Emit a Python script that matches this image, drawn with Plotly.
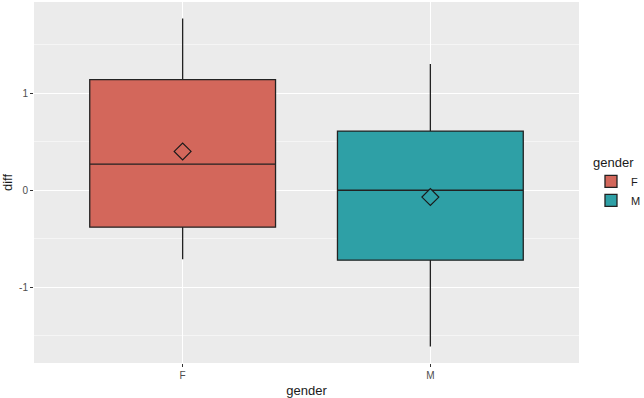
import plotly.graph_objects as go

categories = ["F", "M"]
q1 = [-0.38, -0.72]
median = [0.27, 0.0]
q3 = [1.14, 0.61]
lower_whisker = [-0.71, -1.61]
upper_whisker = [1.77, 1.30]
means = [0.40, -0.07]
fill_colors = ["#D3675B", "#2EA0A6"]
y_ticks = [-1, 0, 1]

fig = go.Figure()
for i, cat in enumerate(categories):
    fig.add_trace(go.Box(
        x=[cat], q1=[q1[i]], median=[median[i]], q3=[q3[i]],
        lowerfence=[lower_whisker[i]], upperfence=[upper_whisker[i]],
        name=cat, legendgroup=cat, width=0.75, whiskerwidth=0,
        fillcolor=fill_colors[i], line=dict(color="#222222", width=1.3),
        boxpoints=False, hoverinfo="skip",
    ))
    fig.add_trace(go.Scatter(
        x=[cat], y=[means[i]], mode="markers", showlegend=False,
        legendgroup=cat,
        marker=dict(symbol="diamond", size=13, color=fill_colors[i],
                    line=dict(color="#1a1a1a", width=1.2)),
        hoverinfo="skip",
    ))

fig.update_layout(
    width=644, height=398,
    margin=dict(l=34, r=65, t=2, b=35, autoexpand=False),
    paper_bgcolor="white", plot_bgcolor="#EBEBEB",
    font=dict(family="Liberation Sans, Arial, sans-serif", color="#1a1a1a"),
    showlegend=True,
    legend=dict(title=dict(text="gender", font=dict(size=13)), x=1.022, xanchor="left",
                y=0.5, yanchor="middle", font=dict(size=11), bgcolor="rgba(0,0,0,0)",
                tracegroupgap=0, itemwidth=30),
    boxmode="overlay",
)
fig.update_xaxes(
    type="category", categoryorder="array", categoryarray=categories,
    range=[-0.6, 1.6], showgrid=True, gridcolor="white", gridwidth=1.1,
    zeroline=False, ticks="outside", ticklen=3, tickcolor="#333333",
    tickfont=dict(size=10, color="#4D4D4D"),
    title=dict(text="gender", font=dict(size=13, color="#1a1a1a"), standoff=6),
    showline=False, automargin=False,
)
fig.update_yaxes(
    range=[-1.78, 1.94], tickvals=y_ticks, ticktext=[str(v) for v in y_ticks],
    showgrid=True, gridcolor="white", gridwidth=1.1,
    minor=dict(dtick=1, tick0=0.5, showgrid=True, gridcolor="#F5F5F5", gridwidth=0.6),
    zeroline=False, ticks="outside", ticklen=3, tickcolor="#333333",
    tickfont=dict(size=10, color="#4D4D4D"),
    title=dict(text="diff", font=dict(size=13, color="#1a1a1a"), standoff=4),
    showline=False, automargin=False,
)

fig.write_html("out.html", config={"displayModeBar": False},
               post_script="document.body.style.margin='0px';")
